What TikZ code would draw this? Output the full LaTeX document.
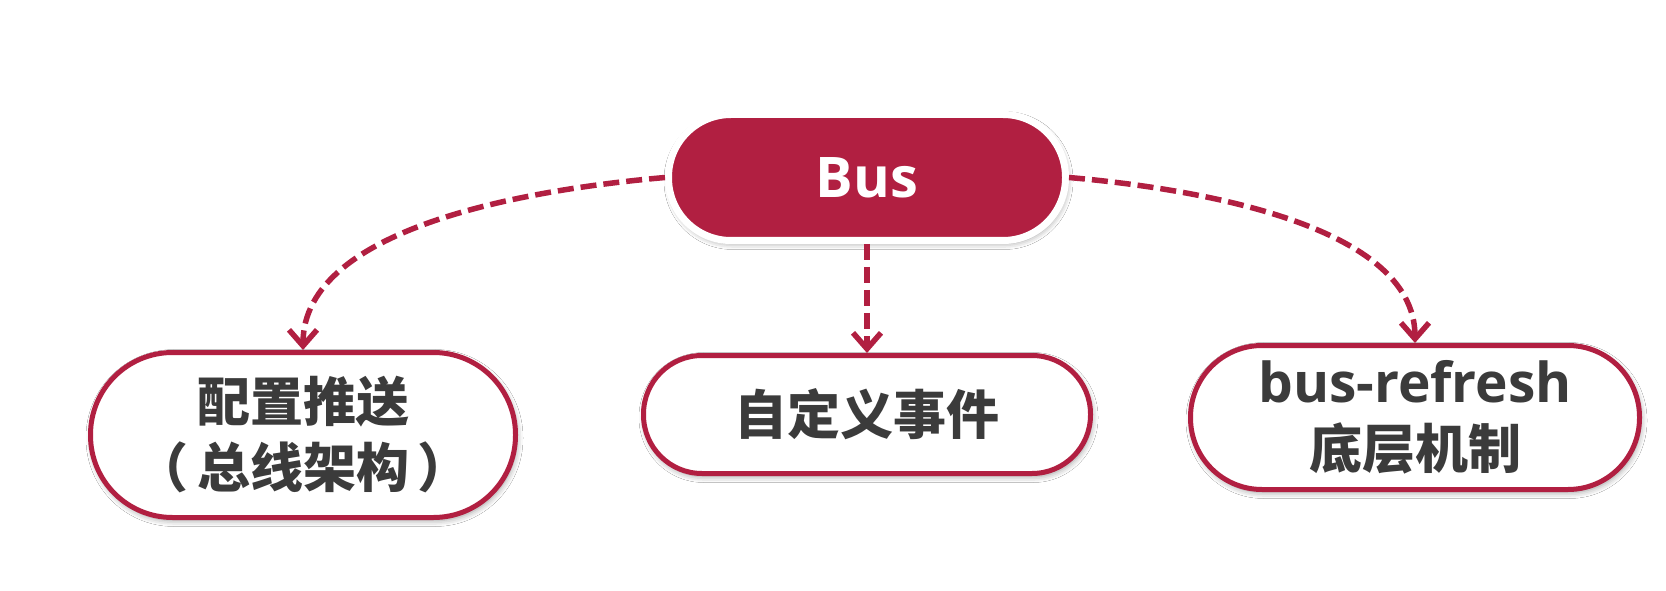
\documentclass[tikz,border=0pt]{standalone}
\usepackage{fontspec}
\newfontfamily\cjk{Noto Sans CJK SC}
\newfontfamily\lat{Open Sans}
\usetikzlibrary{arrows.meta,shadows.blur}
\definecolor{crim}{HTML}{B11F41}
\definecolor{inkgray}{HTML}{3B3B3B}
\begin{document}
\begin{tikzpicture}[x=1pt,y=1pt,
  softshadow/.style={blur shadow={shadow xshift=1.5pt, shadow yshift=-3pt, shadow blur radius=6pt, shadow opacity=40}},
  pill/.style={rectangle, draw=crim, line width=5pt, fill=white, inner sep=0pt,
    text=inkgray, align=center, softshadow,
    font=\fontsize{53}{66}\selectfont\bfseries\cjk},
  hub/.style={rectangle, draw=white, line width=7pt, fill=crim, inner sep=0pt,
    text=white, minimum width=397pt, minimum height=126pt, rounded corners=62.5pt,
    softshadow, font=\fontsize{56}{60}\selectfont\bfseries\lat},
  link/.style={draw=crim, line width=5.5pt, dash pattern=on 16pt off 7pt,
    -{Straight Barb[length=16pt,width=28pt,line width=5.5pt]}}
]
\useasboundingbox (0,0) rectangle (1666,590);
\fill[white] (0,0) rectangle (1666,590);

\node[hub] (bus) at (867,412.5) {Bus};

\node[pill, minimum width=425pt, minimum height=165pt, rounded corners=82pt]
  (push) at (303,155) {配置推送\\（\hbox to 0.16em{}总线架构\hbox to 0.16em{}）};
\node[pill, minimum width=447pt, minimum height=118pt, rounded corners=58.5pt]
  (evt) at (867,175.5) {自定义事件};
\node[pill, minimum width=449pt, minimum height=144pt, rounded corners=71.5pt]
  (bref) at (1415,172.5) {{\lat\fontsize{55}{66}\selectfont bus-refresh}\\底层机制};

\draw[link] (bus.west) to[out=185,in=90,looseness=0.8] (push.north);
\draw[link] (bus.south) -- (evt.north);
\draw[link] (bus.east) to[out=-5,in=90,looseness=0.8] (bref.north);
\end{tikzpicture}
\end{document}
